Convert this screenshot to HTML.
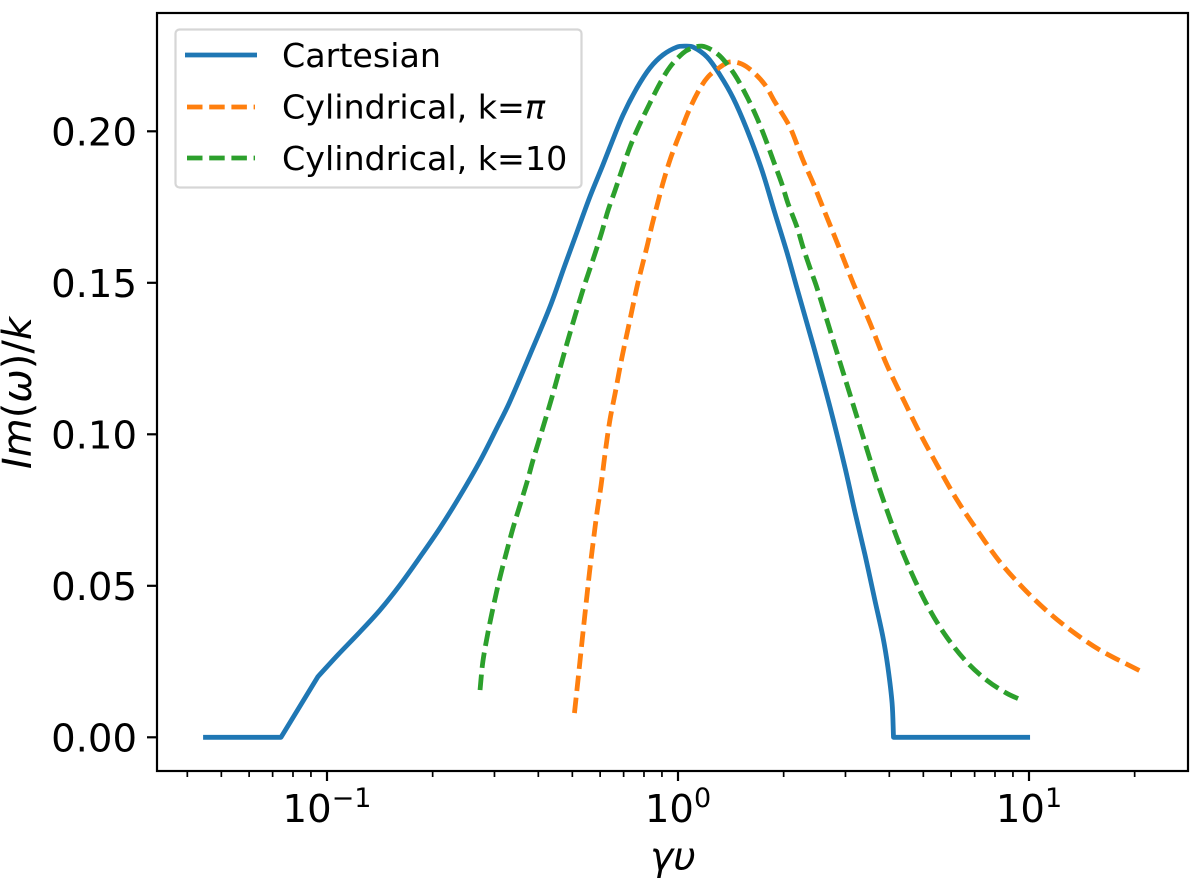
<!DOCTYPE html>
<html>
<head>
<meta charset="utf-8">
<style>
html,body{margin:0;padding:0;background:#fff;}
svg{display:block;font-family:"DejaVu Sans","Liberation Sans",sans-serif;}
</style>
</head>
<body>
<svg id="chart" width="1200" height="879" viewBox="0 0 1200 879" xmlns="http://www.w3.org/2000/svg">
  <rect x="0" y="0" width="1200" height="879" fill="#ffffff"/>
  <g id="series"></g>
  <g id="ticks"></g>
  <rect x="157" y="13" width="1031" height="758" fill="none" stroke="#000" stroke-width="2.2"/>
  <text x="673" y="870" font-size="39" font-style="italic" text-anchor="middle">γυ</text>
  <text transform="translate(31,393) rotate(-90)" font-size="40" text-anchor="middle"><tspan font-style="italic">Im</tspan>(<tspan font-style="italic">ω</tspan>)/<tspan font-style="italic">k</tspan></text>
  <g>
    <rect x="175.5" y="29.5" width="406" height="158" rx="4" ry="4" fill="#ffffff" fill-opacity="0.8" stroke="#cccccc" stroke-opacity="0.8" stroke-width="2.2"/>
    <line x1="185" y1="55" x2="257" y2="55" stroke="#1f77b4" stroke-width="4.8"/>
    <text x="282" y="67" font-size="33.3">Cartesian</text>
    <line x1="187" y1="107" x2="255" y2="107" stroke="#ff7f0e" stroke-width="4.8" stroke-dasharray="15.5 6.7"/>
    <text x="282" y="118.5" font-size="33.3">Cylindrical, k=<tspan font-style="italic">π</tspan></text>
    <line x1="187" y1="158" x2="255" y2="158" stroke="#2ca02c" stroke-width="4.8" stroke-dasharray="15.5 6.7"/>
    <text x="282" y="170" font-size="33.3">Cylindrical, k=10</text>
  </g>
</svg>
<script>
// x values are log10(gamma*upsilon); y values are Im(omega)/k
const cartesianLogX = [-1.353,-1.131,-1.026,-0.969,-0.906,-0.849,-0.792,-0.735,-0.678,-0.621,-0.564,-0.516,-0.481,-0.422,-0.365,-0.322,-0.293,-0.251,-0.214,-0.194,-0.157,-0.117,-0.080,-0.043,-0.003,0.020,0.043,0.083,0.120,0.157,0.197,0.239,0.276,0.311,0.339,0.385,0.433,0.476,0.504,0.533,0.561,0.584,0.598,0.610,0.614,1.003];
const cartesianY = [0,0,0.0200,0.0272,0.0348,0.0420,0.0503,0.0595,0.0691,0.0797,0.0912,0.1021,0.1103,0.1262,0.1420,0.1559,0.1651,0.1784,0.1889,0.1948,0.2053,0.2143,0.2209,0.2252,0.2278,0.2281,0.2278,0.2245,0.2185,0.2110,0.2004,0.1872,0.1730,0.1598,0.1482,0.1295,0.1090,0.0889,0.0744,0.0601,0.0452,0.0330,0.0231,0.0112,0,0];
const cartesianKinks = [1,2,44];
const cylPiLogX = [-0.295,-0.284,-0.273,-0.262,-0.252,-0.242,-0.231,-0.219,-0.208,-0.194,-0.179,-0.160,-0.137,-0.117,-0.103,-0.088,-0.074,-0.057,-0.043,-0.023,-0.003,0.006,0.028,0.057,0.085,0.120,0.148,0.182,0.214,0.248,0.276,0.311,0.325,0.356,0.385,0.410,0.433,0.456,0.499,0.547,0.595,0.647,0.689,0.738,0.795,0.852,0.917,0.983,1.054,1.125,1.202,1.322];
const cylPiY = [0.0080,0.0199,0.0321,0.0440,0.0546,0.0641,0.0740,0.0833,0.0935,0.1047,0.1136,0.1252,0.1377,0.1486,0.1552,0.1621,0.1691,0.1767,0.1829,0.1905,0.1968,0.1994,0.2060,0.2130,0.2179,0.2212,0.2229,0.2222,0.2196,0.2153,0.2097,0.2031,0.1998,0.1905,0.1829,0.1757,0.1691,0.1625,0.1499,0.1367,0.1229,0.1103,0.1004,0.0899,0.0783,0.0684,0.0579,0.0493,0.0414,0.0348,0.0288,0.0216];
const cyl10LogX = [-0.564,-0.556,-0.541,-0.524,-0.507,-0.487,-0.470,-0.450,-0.430,-0.413,-0.387,-0.359,-0.316,-0.271,-0.236,-0.217,-0.199,-0.179,-0.160,-0.137,-0.114,-0.080,-0.051,-0.023,0.014,0.040,0.068,0.097,0.125,0.162,0.197,0.225,0.248,0.271,0.296,0.313,0.339,0.356,0.376,0.396,0.433,0.470,0.510,0.561,0.595,0.632,0.675,0.718,0.766,0.823,0.880,0.937,0.980];
const cyl10Y = [0.0156,0.0249,0.0348,0.0443,0.0529,0.0618,0.0691,0.0767,0.0843,0.0915,0.1014,0.1123,0.1301,0.1476,0.1598,0.1668,0.1740,0.1806,0.1872,0.1948,0.2011,0.2093,0.2159,0.2212,0.2258,0.2275,0.2281,0.2268,0.2242,0.2186,0.2113,0.2044,0.1978,0.1905,0.1826,0.1763,0.1684,0.1618,0.1549,0.1483,0.1344,0.1206,0.1057,0.0866,0.0750,0.0634,0.0518,0.0419,0.0330,0.0248,0.0188,0.0145,0.0122];
const noKinks = [];
const yTickValues = [0,0.05,0.10,0.15,0.20];
const yTickLabels = ["0.00","0.05","0.10","0.15","0.20"];
const xMajorExponents = [-1,0,1];
const xMajorSuperscripts = ["\u22121","0","1"];
const xMinorValues = [0.04,0.05,0.06,0.07,0.08,0.09,0.2,0.3,0.4,0.5,0.6,0.7,0.8,0.9,2,3,4,5,6,7,8,9,20];

const NS = "http://www.w3.org/2000/svg";
function xFromLog(v){ return 678 + 351 * v; }
function yFromValue(v){ return 737.3 - 3030 * v; }
const seriesGroup = document.getElementById("series");
const ticksGroup = document.getElementById("ticks");

function smoothPath(xs, ys, kinks){
  const p = xs.map(function(v, i){ return [xFromLog(v), yFromValue(ys[i])]; });
  function dist(a, b){ return Math.hypot(b[0] - a[0], b[1] - a[1]) || 1; }
  function tangent(i){
    if (i === 0 || i === p.length - 1 || kinks.indexOf(i) >= 0) { return null; }
    const t = dist(p[i - 1], p[i]) + dist(p[i], p[i + 1]);
    return [(p[i + 1][0] - p[i - 1][0]) / t, (p[i + 1][1] - p[i - 1][1]) / t];
  }
  let d = "M" + p[0][0].toFixed(2) + " " + p[0][1].toFixed(2);
  for (let i = 0; i < p.length - 1; i++) {
    const len = dist(p[i], p[i + 1]);
    const unit = [(p[i + 1][0] - p[i][0]) / len, (p[i + 1][1] - p[i][1]) / len];
    const m1 = tangent(i) || unit;
    const m2 = tangent(i + 1) || unit;
    const c1 = [p[i][0] + m1[0] * len / 3, p[i][1] + m1[1] * len / 3];
    const c2 = [p[i + 1][0] - m2[0] * len / 3, p[i + 1][1] - m2[1] * len / 3];
    d += "C" + c1[0].toFixed(2) + " " + c1[1].toFixed(2) + " " + c2[0].toFixed(2) + " " + c2[1].toFixed(2) + " " + p[i + 1][0].toFixed(2) + " " + p[i + 1][1].toFixed(2);
  }
  return d;
}

function drawSeries(name, xs, ys, kinks, color, dashed){
  const path = document.createElementNS(NS, "path");
  path.setAttribute("d", smoothPath(xs, ys, kinks));
  path.setAttribute("fill", "none");
  path.setAttribute("stroke", color);
  path.setAttribute("stroke-width", "4.8");
  path.setAttribute("stroke-linejoin", "round");
  if (dashed) {
    path.setAttribute("stroke-dasharray", "15.5 6.7");
  }
  
  
  seriesGroup.appendChild(path);
}
drawSeries("series-cartesian", cartesianLogX, cartesianY, cartesianKinks, "#1f77b4", false);
drawSeries("series-cylindrical-k-pi", cylPiLogX, cylPiY, noKinks, "#ff7f0e", true);
drawSeries("series-cylindrical-k-10", cyl10LogX, cyl10Y, noKinks, "#2ca02c", true);

function drawTick(x1, y1, x2, y2, width, name){
  const l = document.createElementNS(NS, "line");
  l.setAttribute("x1", x1);
  l.setAttribute("y1", y1);
  l.setAttribute("x2", x2);
  l.setAttribute("y2", y2);
  l.setAttribute("stroke", "#000");
  l.setAttribute("stroke-width", width);
  
  
  ticksGroup.appendChild(l);
}

yTickValues.forEach(function(v, i){
  const y = yFromValue(v);
  drawTick(147, y, 157, y, 2.2, "y-tick-mark");
  const t = document.createElementNS(NS, "text");
  t.setAttribute("x", 137);
  t.setAttribute("y", y + 14);
  t.setAttribute("font-size", "38.6");
  t.setAttribute("text-anchor", "end");
  
  
  t.textContent = yTickLabels[i];
  ticksGroup.appendChild(t);
});

xMajorExponents.forEach(function(e, i){
  const x = xFromLog(e);
  drawTick(x, 771, x, 781, 2.2, "x-major-tick-mark");
  const t = document.createElementNS(NS, "text");
  t.setAttribute("x", x);
  t.setAttribute("y", 822);
  t.setAttribute("font-size", "38.6");
  t.setAttribute("text-anchor", "middle");
  
  
  t.appendChild(document.createTextNode("10"));
  const s = document.createElementNS(NS, "tspan");
  s.setAttribute("font-size", "27");
  s.setAttribute("dy", "-15");
  s.textContent = xMajorSuperscripts[i];
  t.appendChild(s);
  ticksGroup.appendChild(t);
});

xMinorValues.forEach(function(v){
  const x = xFromLog(Math.log10(v));
  drawTick(x, 771, x, 777, 1.7, "x-minor-tick-mark");
});
</script>
</body>
</html>
